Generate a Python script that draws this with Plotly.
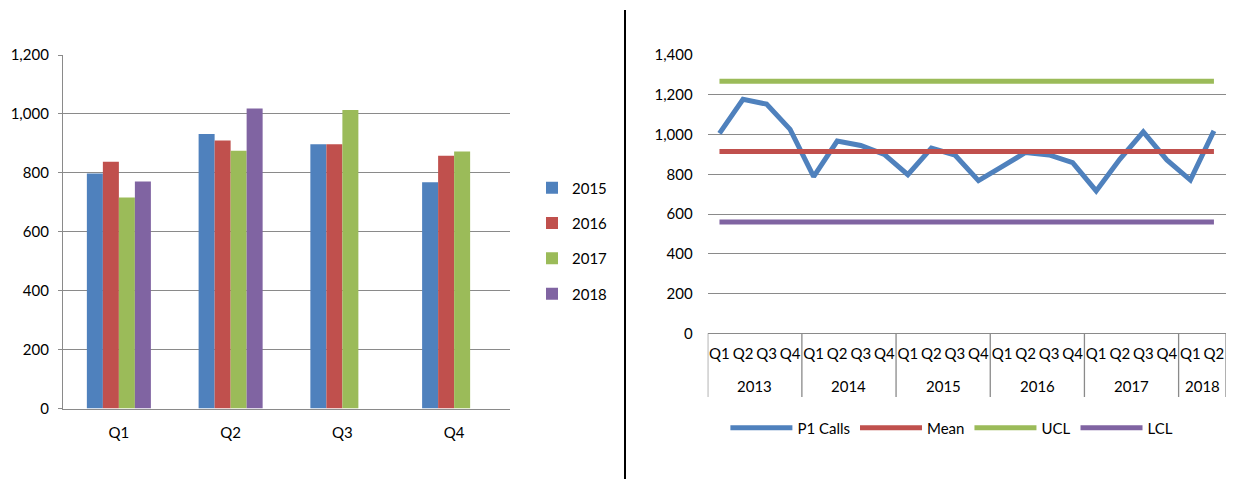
import plotly.graph_objects as go

# ---------------- data ----------------
bar_quarters = ["Q1", "Q2", "Q3", "Q4"]
bar_series = ["2015", "2016", "2017", "2018"]
v2015 = [798, 932, 897, 768]
v2016 = [838, 910, 897, 858]
v2017 = [716, 875, 1013, 872]
v2018 = [771, 1018, None, None]

line_years = ["2013", "2014", "2015", "2016", "2017", "2018"]
line_quarters = ["Q1", "Q2", "Q3", "Q4"]
p1_calls = [1006, 1177, 1153, 1026,
            788, 967, 945, 900,
            798, 932, 897, 768,
            838, 910, 897, 858,
            716, 875, 1013, 872,
            771, 1018]
mean_level = 914
ucl_level = 1268
lcl_level = 560

left_ticks = [0, 200, 400, 600, 800, 1000, 1200]
right_ticks = [0, 200, 400, 600, 800, 1000, 1200, 1400]

# ---------------- styles ----------------
C_BLUE = "#4F81BD"
C_RED = "#C0504D"
C_GREEN = "#9BBB59"
C_PURPLE = "#8064A2"
GRID = "#8A8A8A"
FONT = "Lato"
W, H = 1233, 479


def fx(p):
    return min(1.0, max(0.0, p / W))


def fy(p):
    return min(1.0, max(0.0, 1 - p / H))


fig = go.Figure()

bar_vals = [v2015, v2016, v2017, v2018]
bar_cols = [C_BLUE, C_RED, C_GREEN, C_PURPLE]
for name, vals, col in zip(bar_series, bar_vals, bar_cols):
    fig.add_trace(go.Bar(x=bar_quarters, y=vals, name=name, marker_color=col,
                         marker_line_width=0, xaxis="x", yaxis="y",
                         legend="legend", legendgroup=name))

n = len(p1_calls)
idx = list(range(n))
q_text = [line_quarters[i % 4] for i in idx]
year_of = [line_years[i // 4] for i in idx]

line_defs = [("P1 Calls", p1_calls, C_BLUE),
             ("Mean", [mean_level] * n, C_RED),
             ("UCL", [ucl_level] * n, C_GREEN),
             ("LCL", [lcl_level] * n, C_PURPLE)]
for name, vals, col in line_defs:
    fig.add_trace(go.Scatter(x=idx, y=vals, name=name, mode="lines",
                             line=dict(color=col, width=5),
                             xaxis="x2", yaxis="y2", legend="legend2"))

# year group labels and dividers (derived from the data)
annotations = []
shapes = []
bounds = [-0.5]
for yr in line_years:
    members = [i for i in idx if year_of[i] == yr]
    centre = sum(members) / len(members)
    annotations.append(dict(x=centre, y=fy(386), xref="x2", yref="paper",
                            text=yr, showarrow=False, xanchor="center",
                            yanchor="middle", font=dict(size=15, color="black")))
    bounds.append(members[-1] + 0.5)
for b in bounds:
    shapes.append(dict(type="line", xref="x2", yref="paper", x0=b, x1=b,
                       y0=fy(333.3), y1=fy(397), line=dict(color=GRID, width=1.3)))

shapes.append(dict(type="line", xref="paper", yref="paper",
                   x0=fx(625), x1=fx(625), y0=0, y1=fy(10),
                   line=dict(color="black", width=2)))

fig.update_layout(
    width=W, height=H,
    margin=dict(l=0, r=0, t=0, b=0, autoexpand=False),
    paper_bgcolor="white", plot_bgcolor="white",
    font=dict(family=FONT, size=15, color="black"),
    barmode="group", bargap=0.427, bargroupgap=0,
    xaxis=dict(domain=[fx(63), fx(510)], anchor="y", showgrid=False,
               showline=True, linecolor=GRID, linewidth=1.3, ticks="",
               ticklabelstandoff=10, fixedrange=True),
    yaxis=dict(domain=[fy(408.5), fy(55)], anchor="x", range=[0, 1200],
               tickvals=left_ticks, tickformat=",", showgrid=True,
               gridcolor=GRID, gridwidth=1.3, showline=True, linecolor=GRID,
               linewidth=1.3, ticks="outside", ticklen=4, tickcolor=GRID,
               zeroline=False, ticklabelstandoff=6),
    xaxis2=dict(domain=[fx(707.7), fx(1225.7)], anchor="y2", range=[-0.5, n - 0.5],
                tickvals=idx, ticktext=q_text, tickangle=0,
                showgrid=False, showline=True, linecolor=GRID, linewidth=1.3,
                zeroline=False, ticks="", ticklabelstandoff=7),
    yaxis2=dict(domain=[fy(333.3), fy(55)], anchor="x2", range=[0, 1400],
                tickvals=right_ticks, tickformat=",", showgrid=True,
                gridcolor=GRID, gridwidth=1.3, showline=False, zeroline=False,
                ticks="", ticklabelstandoff=14),
    legend=dict(x=fx(532), y=fy(241), xanchor="left", yanchor="middle",
                orientation="v", tracegroupgap=12.8, font=dict(size=15),
                bgcolor="rgba(0,0,0,0)", itemwidth=30),
    legend2=dict(x=fx(725.4), y=fy(428), xanchor="left", yanchor="middle",
                 orientation="h", font=dict(size=15), bgcolor="rgba(0,0,0,0)",
                 itemwidth=62),
    showlegend=True,
    annotations=annotations,
    shapes=shapes,
)

fig.write_html("out.html")
